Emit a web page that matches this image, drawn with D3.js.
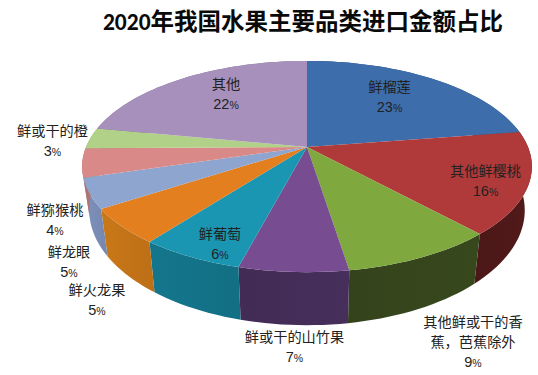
<!DOCTYPE html>
<html>
<head>
<meta charset="utf-8">
<script src="https://cdn.jsdelivr.net/npm/d3@7"></script>
<style>
  html, body { margin: 0; padding: 0; background: #fff; }
  svg { display: block; }
  text { font-family: "Noto Sans CJK SC", "DejaVu Sans", sans-serif; }
</style>
</head>
<body>
<div id="chart"></div>
<script>
const titleYear = '2020';
const titleRest = '年我国水果主要品类进口金额占比';

const categories = ['鲜榴莲', '其他鲜樱桃', '其他鲜或干的香蕉，芭蕉除外', '鲜或干的山竹果', '鲜葡萄',
    '鲜火龙果', '鲜龙眼', '鲜猕猴桃', '鲜或干的橙', '其他'];
// printed percentages
const shares = [23, 16, 9, 7, 6, 5, 5, 4, 3, 22];
// slice sizes, a bit finer than the printed rounding
const amounts = [22.6, 15.6, 9.3, 6.6, 6.3, 5.4, 4.6, 4.4, 3.2, 22.0];

const topColors = ['#3d6dab', '#b03a3a', '#7fa83f', '#774c90', '#1b96b2', '#e37f1e', '#8ea5d0', '#d98a88', '#b2d188', '#a791bc'];
const sideEdge = ['#2a4a75', '#4c1717', '#34431b', '#422c55', '#14768c', '#c97818', '#7f92bd', '#a86a68', '#8aa468', '#7f6d90'];
const sideMid = ['#2f5485', '#521a1a', '#38481d', '#462f5a', '#126f84', '#bd6f17', '#7587ae', '#b87a78', '#94ae70', '#8a76a0'];

// label lines, one row per slice, broken as in the picture
const labelLines = [['鲜榴莲'], ['其他鲜樱桃'], ['其他鲜或干的香', '蕉，芭蕉除外'], ['鲜或干的山竹果'], ['鲜葡萄'],
    ['鲜火龙果'], ['鲜龙眼'], ['鲜猕猴桃'], ['鲜或干的橙'], ['其他']];

const width = 538, height = 375;
const svg = d3.select('#chart').append('svg').attr('width', width).attr('height', height);
const defs = svg.append('defs');

// tilted disc: unit circle seen in perspective, the apex is not in the middle of the ellipse
const persp = 0.185;
function project(angle, g) {
    const u = Math.sin(angle), v = -Math.cos(angle);
    const s = 1 / (1 - persp * v);
    return [g.cx + g.rx * u * s, g.cy + g.ry * v * s];
}
const topDisc = { cx: 307, cy: 147, rx: 221, ry: 102 };
const bottomDisc = { cx: 307, cy: 189, rx: 214, ry: 111 };

const arcs = d3.pie().sort(null).value(d => d).startAngle(0).endAngle(2 * Math.PI)(amounts);
const line = d3.line();

function rim(a0, a1, g) {
    const n = Math.max(2, Math.ceil((a1 - a0) * 30));
    return d3.range(n + 1).map(i => project(a0 + (a1 - a0) * i / n, g));
}

// side walls first, top surface covers the back part
const sides = svg.append('g');
arcs.forEach((a, i) => {
    const top = rim(a.startAngle, a.endAngle, topDisc);
    const bot = rim(a.startAngle, a.endAngle, bottomDisc);
    const id = 'side' + i;
    const x0 = d3.min(top.concat(bot), p => p[0]), x1 = d3.max(top.concat(bot), p => p[0]);
    const grad = defs.append('linearGradient').attr('id', id)
        .attr('gradientUnits', 'userSpaceOnUse')
        .attr('x1', x0).attr('x2', x1).attr('y1', 0).attr('y2', 0);
    grad.append('stop').attr('offset', '0%').attr('stop-color', sideEdge[i]);
    grad.append('stop').attr('offset', '100%').attr('stop-color', sideMid[i]);
    sides.append('path')
        .attr('d', line(top.concat(bot.reverse())) + 'Z')
        .attr('fill', `url(#${id})`);
});

svg.append('g').selectAll('path')
    .data(arcs)
    .join('path')
    .attr('d', a => line([[topDisc.cx, topDisc.cy]].concat(rim(a.startAngle, a.endAngle, topDisc))) + 'Z')
    .attr('fill', (a, i) => topColors[i]);

// title
const title = svg.append('text')
    .attr('x', 303).attr('y', 29.5)
    .attr('text-anchor', 'middle')
    .attr('font-size', 23.5)
    .attr('font-weight', 700)
    .attr('fill', '#0a0a0a');
title.append('tspan').text(titleYear).style('font-family', 'Carlito, "Liberation Sans", sans-serif');
title.append('tspan').text(titleRest);

// label centre x and first row baseline, placed by hand as the source chart does
const labelAt = [[389.5, 91.5], [485.5, 176], [473, 326.5], [294.5, 342], [220, 239],
    [97, 294.5], [69, 256.5], [55, 214.5], [52.5, 135.7], [226, 88.5]];

const labels = svg.append('g');
categories.forEach((c, i) => {
    const t = labels.append('text')
        .attr('text-anchor', 'middle')
        .attr('font-size', 14.2)
        .attr('fill', '#222');
    labelLines[i].forEach((row, j) => {
        t.append('tspan')
            .attr('x', labelAt[i][0])
            .attr('y', labelAt[i][1] + j * 20.3)
            .text(row);
    });
    t.append('tspan')
        .attr('x', labelAt[i][0])
        .attr('y', labelAt[i][1] + labelLines[i].length * 20.3)
        .style('font-family', '"Liberation Sans", sans-serif')
        .style('font-size', '14.5px')
        .text(shares[i]);
    t.append('tspan')
        .style('font-family', '"Liberation Sans", sans-serif')
        .style('font-size', '10.5px')
        .text('%');
});
</script>
</body>
</html>
